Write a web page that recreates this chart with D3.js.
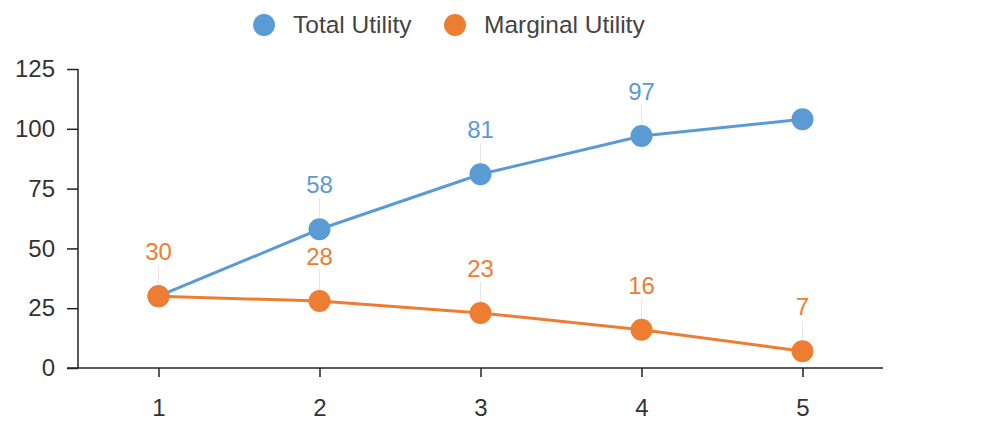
<!DOCTYPE html>
<html><head><meta charset="utf-8">
<script src="https://cdn.jsdelivr.net/npm/d3@7"></script>
<style>body{margin:0;background:#fff;font-family:"Liberation Sans",Arial,sans-serif;}</style>
</head><body><svg id="c" width="1000" height="443"></svg>
<script>
const categories = [1, 2, 3, 4, 5];
const totalUtility = [30, 58, 81, 97, 104];
const marginalUtility = [30, 28, 23, 16, 7];
const totalLabelShown = [false, true, true, true, false];
const marginalLabelShown = [true, true, true, true, true];
const yTicks = [0, 25, 50, 75, 100, 125];
const seriesNames = ["Total Utility", "Marginal Utility"];
const colors = ["#5B9BD5", "#ED7D31"];

const svg = d3.select("#c");
const x = d3.scaleLinear().domain([0.5, 5.5]).range([78, 883]);
const y = d3.scaleLinear().domain([0, 125]).range([368, 69]);

// axes
const yAxis = svg.append("g").attr("transform", "translate(78,0)")
  .call(d3.axisLeft(y).tickValues(yTicks).tickSize(11).tickPadding(12));
const xAxis = svg.append("g").attr("transform", "translate(0,368)")
  .call(d3.axisBottom(x).tickValues(categories).tickFormat(d3.format("d")).tickSize(9).tickPadding(22));
[yAxis, xAxis].forEach(g => {
  g.select(".domain").remove();
  g.selectAll("line").attr("stroke", "#222").attr("stroke-width", 1.5);
  g.selectAll("text").attr("fill", "#333").style("font-size", "24px").style("font-family", "Liberation Sans, Arial, sans-serif");
});
svg.append("line").attr("x1", 78).attr("x2", 78).attr("y1", y(125)).attr("y2", 368).attr("stroke", "#222").attr("stroke-width", 1.5);
svg.append("line").attr("x1", 67).attr("x2", 883).attr("y1", 368).attr("y2", 368).attr("stroke", "#222").attr("stroke-width", 1.5);

const series = [
  {vals: totalUtility, shown: totalLabelShown, color: colors[0]},
  {vals: marginalUtility, shown: marginalLabelShown, color: colors[1]}
];
const line = d3.line().x((d, i) => x(categories[i])).y(d => y(d)).curve(d3.curveLinear);

// leader lines & labels first (under markers)
series.forEach(s => {
  s.vals.forEach((v, i) => {
    if (!s.shown[i]) return;
    const px = x(categories[i]), py = y(v);
    svg.append("line").attr("x1", px).attr("x2", px).attr("y1", py - 8).attr("y2", py - 31)
      .attr("stroke", "#e6e6e6").attr("stroke-width", 1.2);
    svg.append("text").attr("x", px).attr("y", py - 36).attr("text-anchor", "middle")
      .attr("fill", s.color).style("font-size", "24px").text(v);
  });
});
series.forEach(s => {
  svg.append("path").datum(s.vals).attr("d", line).attr("fill", "none")
    .attr("stroke", s.color).attr("stroke-width", 3);
});
series.forEach(s => {
  svg.selectAll(null).data(s.vals).enter().append("circle")
    .attr("cx", (d, i) => x(categories[i])).attr("cy", d => y(d)).attr("r", 11)
    .attr("fill", s.color);
});

// legend
const legendX = [264, 455];
seriesNames.forEach((n, i) => {
  svg.append("circle").attr("cx", legendX[i]).attr("cy", 25).attr("r", 11).attr("fill", colors[i]);
  svg.append("text").attr("x", legendX[i] + 29).attr("y", 33).attr("fill", "#444")
    .style("font-size", "24.5px").text(n);
});
</script></body></html>
